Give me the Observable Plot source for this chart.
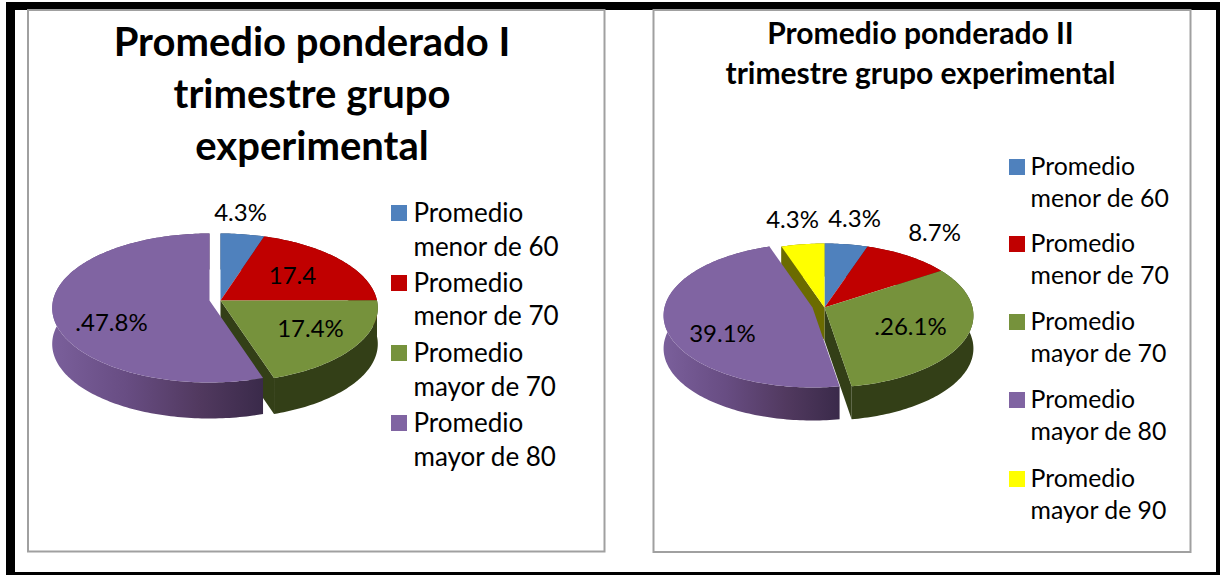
<!DOCTYPE html>
<html><head><meta charset="utf-8">
<script src="https://cdn.jsdelivr.net/npm/d3@7"></script>
<script src="https://cdn.jsdelivr.net/npm/@observablehq/plot@0.6"></script>
<style>html,body{margin:0;padding:0;background:#fff}svg{display:block}</style>
</head><body><div id="chart"></div>
<script>
// ---------- data ----------
const categories = ["Promedio menor de 60","Promedio menor de 70","Promedio mayor de 70","Promedio mayor de 80","Promedio mayor de 90"];
const colors = ["#4f81bd","#c00000","#76923c","#8064a2","#ffff00"];
const sideColors = ["#2a4060","#600000","#333f17","url(#purpleSide)","#6b6b00"];
const valuesI = [4.3,17.4,17.4,47.8];
const labelsI = ["4.3%","17.4","17.4%",".47.8%"];
const valuesII = [4.3,8.7,26.1,39.1,4.3];
const labelsII = ["4.3%","8.7%",".26.1%","39.1%","4.3%"];
const titleI = ["Promedio ponderado I","trimestre grupo","experimental"];
const titleII = ["Promedio ponderado II","trimestre grupo experimental"];

// ---------- layout ----------
const pies = [
 {values:valuesI, labels:labelsI, cx:220, cy:300, rx:156.5, ryTop:67, ryBot:82, depth:36, exploded:3, ox:-11, oy:0,
  labelPos:[[240,213],[292,276],[310,329],[111,323]]},
 {values:valuesII, labels:labelsII, cx:824, cy:307, rx:148, ryTop:64, ryBot:80, depth:33, exploded:3, ox:-12, oy:0,
  labelPos:[[854,219],[934,233],[910,327],[722,334],[792,220]]}
];
const legends = [
 {n:4, sx:391, tx:413, size:26, ys:[[213,247],[283,316],[353,387],[423,457]]},
 {n:5, sx:1009, tx:1030, size:24.8, ys:[[167,199],[244,276],[322,354],[400,432],[479,511]]}
];
const FONT = "Lato, 'Noto Sans', sans-serif";

// ---------- pie geometry from the values ----------
function project(p, a){ // tilted circle under perspective
  const k=(p.ryBot-p.ryTop)/(p.ryBot+p.ryTop), ry=p.ryTop*(1+k);
  const s=Math.sin(a), c=Math.cos(a), d=1+k*c;
  return [p.rx*s/d, -ry*c/d];
}
const tops=[], sides=[], walls=[];
pies.forEach((p,pi)=>{
  const total=d3.sum(p.values);
  let acc=0;
  const n=p.values.length;
  const slices=p.values.map((v,i)=>{const a0=acc/total*2*Math.PI; acc+=v; return {i,a0,a1:acc/total*2*Math.PI};});
  slices.forEach(sl=>{
    const ex=sl.i===p.exploded;
    const ax=p.cx+(ex?p.ox:0), ay=p.cy+(ex?p.oy:0);
    const steps=Math.max(4,Math.ceil((sl.a1-sl.a0)/0.02));
    const rim=d3.range(steps+1).map(j=>{const a=sl.a0+(sl.a1-sl.a0)*j/steps; const q=project(p,a); return [ax+q[0],ay+q[1]];});
    const key=pi+"-"+sl.i;
    tops.push(...[[ax,ay],...rim].map(q=>({x:q[0],y:q[1],z:key,cat:categories[sl.i]})));
    sides.push(...[...rim,...rim.slice().reverse().map(q=>[q[0],q[1]+p.depth])].map(q=>({x:q[0],y:q[1],z:key,fill:sideColors[sl.i],order:ex?1:0})));
    // cut faces next to the exploded slice
    const nextEx=(sl.i+1)%n===p.exploded, prevEx=(sl.i-1+n)%n===p.exploded;
    if(!ex&&(nextEx||prevEx)){
      const a=nextEx?sl.a1:sl.a0, q=project(p,a), rx=ax+q[0], ry=ay+q[1];
      [[ax,ay],[rx,ry],[rx,ry+p.depth],[ax,ay+p.depth]].forEach(w=>walls.push({x:w[0],y:w[1],z:key+"w",fill:sideColors[sl.i]}));
    }
  });
});
const labelRows=pies.flatMap(p=>p.labels.map((t,i)=>({t,x:p.labelPos[i][0],y:p.labelPos[i][1]})));
const swatches=legends.flatMap(l=>categories.slice(0,l.n).map((c,i)=>({cat:c,x1:l.sx,x2:l.sx+16,y1:l.ys[i][0]-8,y2:l.ys[i][0]+8})));
const legendRows=l=>categories.slice(0,l.n).flatMap((c,i)=>{
  const words=c.split(" "); return [{t:words[0],x:l.tx,y:l.ys[i][0]},{t:words.slice(1).join(" "),x:l.tx,y:l.ys[i][1]}];
});
const titleRows=titleI.map((t,i)=>({t,x:311.5,y:[43,95,147][i]}));
const titleRows2=titleII.map((t,i)=>({t,x:920,y:[34,74][i]}));

// frame rectangles
const black=[{x1:6,x2:1220,y1:2,y2:10},{x1:6,x2:15,y1:2,y2:575},{x1:6,x2:1220,y1:572,y2:575},{x1:1216,x2:1220,y1:2,y2:575}];
const panels=[{x1:28,x2:604.5,y1:10,y2:551.5},{x1:653.5,x2:1190.5,y1:10,y2:552}];

function defs(){
  const s=d3.create("svg:defs");
  const g=s.append("linearGradient").attr("id","purpleSide").attr("x1",0).attr("x2",1).attr("y1",0).attr("y2",0);
  [[0,"#7a5f9b"],[0.35,"#684d83"],[0.7,"#51395f"],[1,"#3a2a4a"]].forEach(([o,c])=>g.append("stop").attr("offset",o).attr("stop-color",c));
  return s.node();
}
const chart=Plot.plot({
  width:1220,height:575,margin:0,
  x:{type:"identity",axis:null},y:{type:"identity",axis:null},
  color:{domain:categories,range:colors},
  style:{fontFamily:FONT,background:"#fff",color:"#000"},
  marks:[
    defs,
    Plot.rect(black,{x1:"x1",x2:"x2",y1:"y1",y2:"y2",fill:"#000"}),
    Plot.rect(panels,{x1:"x1",x2:"x2",y1:"y1",y2:"y2",fill:"#fff",stroke:"#a0a0a0",strokeWidth:2}),
    Plot.line(walls,{x:"x",y:"y",z:"z",fill:"fill",stroke:"none"}),
    Plot.line(sides.filter(d=>d.order===0),{x:"x",y:"y",z:"z",fill:"fill",stroke:"none"}),
    Plot.line(sides.filter(d=>d.order===1),{x:"x",y:"y",z:"z",fill:"fill",stroke:"none"}),
    Plot.line(tops,{x:"x",y:"y",z:"z",fill:"cat",stroke:"none"}),
    Plot.text(labelRows,{x:"x",y:"y",text:"t",fontSize:24,fill:"#000"}),
    Plot.rect(swatches,{x1:"x1",x2:"x2",y1:"y1",y2:"y2",fill:"cat"}),
    Plot.text(legendRows(legends[0]),{x:"x",y:"y",text:"t",textAnchor:"start",fontSize:legends[0].size,fill:"#000"}),
    Plot.text(legendRows(legends[1]),{x:"x",y:"y",text:"t",textAnchor:"start",fontSize:legends[1].size,fill:"#000"}),
    Plot.text(titleRows,{x:"x",y:"y",text:"t",fontSize:40,fontWeight:"bold",fill:"#000"}),
    Plot.text(titleRows2,{x:"x",y:"y",text:"t",fontSize:30,fontWeight:"bold",fill:"#000"})
  ]
});
document.getElementById("chart").append(chart);
</script></body></html>
